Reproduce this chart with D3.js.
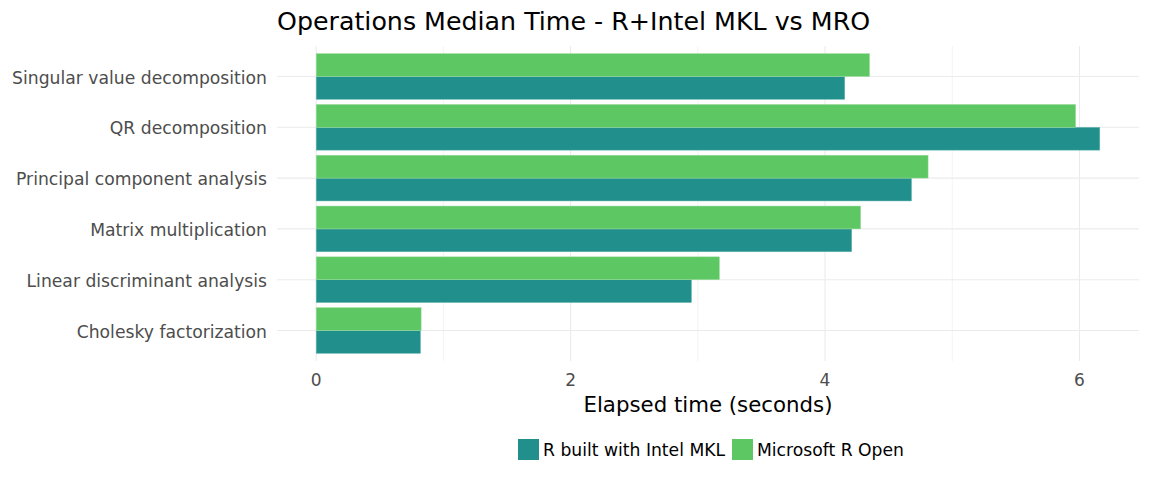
<!DOCTYPE html>
<html>
<head>
<meta charset="utf-8">
<script src="https://cdn.jsdelivr.net/npm/d3@7"></script>
<style>
  body { margin: 0; background: #fff; }
  svg { font-family: "DejaVu Sans", sans-serif; }
</style>
</head>
<body>
<svg width="1150" height="479"></svg>
<script>
// data
const operations = ["Cholesky factorization", "Linear discriminant analysis", "Matrix multiplication",
                    "Principal component analysis", "QR decomposition", "Singular value decomposition"];
const mklTimes = [0.82, 2.95, 4.21, 4.68, 6.16, 4.155];
const mroTimes = [0.825, 3.17, 4.28, 4.81, 5.97, 4.35];
const seriesNames = ["R built with Intel MKL", "Microsoft R Open"];
const xTicks = [0, 2, 4, 6];

const colors = ["#21908C", "#5DC863"];

const svg = d3.select("svg");
const panelLeft = 277, panelRight = 1139, panelTop = 46, panelBottom = 361;

const maxVal = d3.max(mklTimes.concat(mroTimes));
const pad = maxVal * 0.05;
const x = d3.scaleLinear().domain([-pad, maxVal + pad]).range([panelLeft, panelRight]);

// discrete axis, ggplot style expansion of 0.6 units each side
const y = d3.scaleLinear().domain([-0.6, operations.length - 1 + 0.6]).range([panelBottom, panelTop]);

// grid
const grid = svg.append("g");
grid.selectAll(".minor").data([1, 3, 5]).enter().append("line")
  .attr("x1", d => x(d)).attr("x2", d => x(d)).attr("y1", panelTop).attr("y2", panelBottom)
  .attr("stroke", "#ebebeb").attr("stroke-width", 0.6);
grid.selectAll(".major").data(xTicks).enter().append("line")
  .attr("x1", d => x(d)).attr("x2", d => x(d)).attr("y1", panelTop).attr("y2", panelBottom)
  .attr("stroke", "#ebebeb").attr("stroke-width", 1.1);
grid.selectAll(".hmajor").data(operations).enter().append("line")
  .attr("x1", panelLeft).attr("x2", panelRight).attr("y1", (d, i) => y(i)).attr("y2", (d, i) => y(i))
  .attr("stroke", "#ebebeb").attr("stroke-width", 1.1);

// bars
const bw = 0.9;
const rows = operations.map((op, i) => ({ op, i, vals: [mklTimes[i], mroTimes[i]] }));
const barG = svg.append("g");
rows.forEach(r => {
  r.vals.forEach((v, s) => {
    // s=0 (MKL) lower half, s=1 (MRO) upper half
    const y0 = s === 0 ? r.i - bw / 2 : r.i;
    const y1 = s === 0 ? r.i : r.i + bw / 2;
    barG.append("rect")
      .attr("x", x(0))
      .attr("y", y(y1))
      .attr("width", x(v) - x(0))
      .attr("height", y(y0) - y(y1))
      .attr("fill", colors[s])
      .attr("stroke", s === 0 ? "#6fb9b5" : "#9ddca1")
      .attr("stroke-width", 0.5);
  });
});

// y labels
svg.append("g").selectAll("text").data(operations).enter().append("text")
  .attr("x", 267).attr("y", (d, i) => y(i) + 1).attr("dy", "0.35em")
  .attr("text-anchor", "end").attr("font-size", 17.2).attr("fill", "#4d4d4d")
  .text(d => d);

// x tick labels
svg.append("g").selectAll("text").data(xTicks).enter().append("text")
  .attr("x", d => x(d)).attr("y", 386)
  .attr("text-anchor", "middle").attr("font-size", 17).attr("fill", "#4d4d4d")
  .text(d => d);

// x axis title
svg.append("text").attr("x", (panelLeft + panelRight) / 2).attr("y", 412)
  .attr("text-anchor", "middle").attr("font-size", 21.3).attr("fill", "#000")
  .text("Elapsed time (seconds)");

// title
svg.append("text").attr("x", 277).attr("y", 30)
  .attr("font-size", 25.3).attr("fill", "#000")
  .text("Operations Median Time - R+Intel MKL vs MRO");

// legend
const legend = svg.append("g");
const legendX = [518, 732];
seriesNames.forEach((name, s) => {
  legend.append("rect").attr("x", legendX[s]).attr("y", 439).attr("width", 21).attr("height", 21)
    .attr("fill", colors[s]);
  legend.append("text").attr("x", legendX[s] + 25).attr("y", 450).attr("dy", "0.35em")
    .attr("font-size", 17.2).attr("fill", "#000").text(name);
});
</script>
</body>
</html>
